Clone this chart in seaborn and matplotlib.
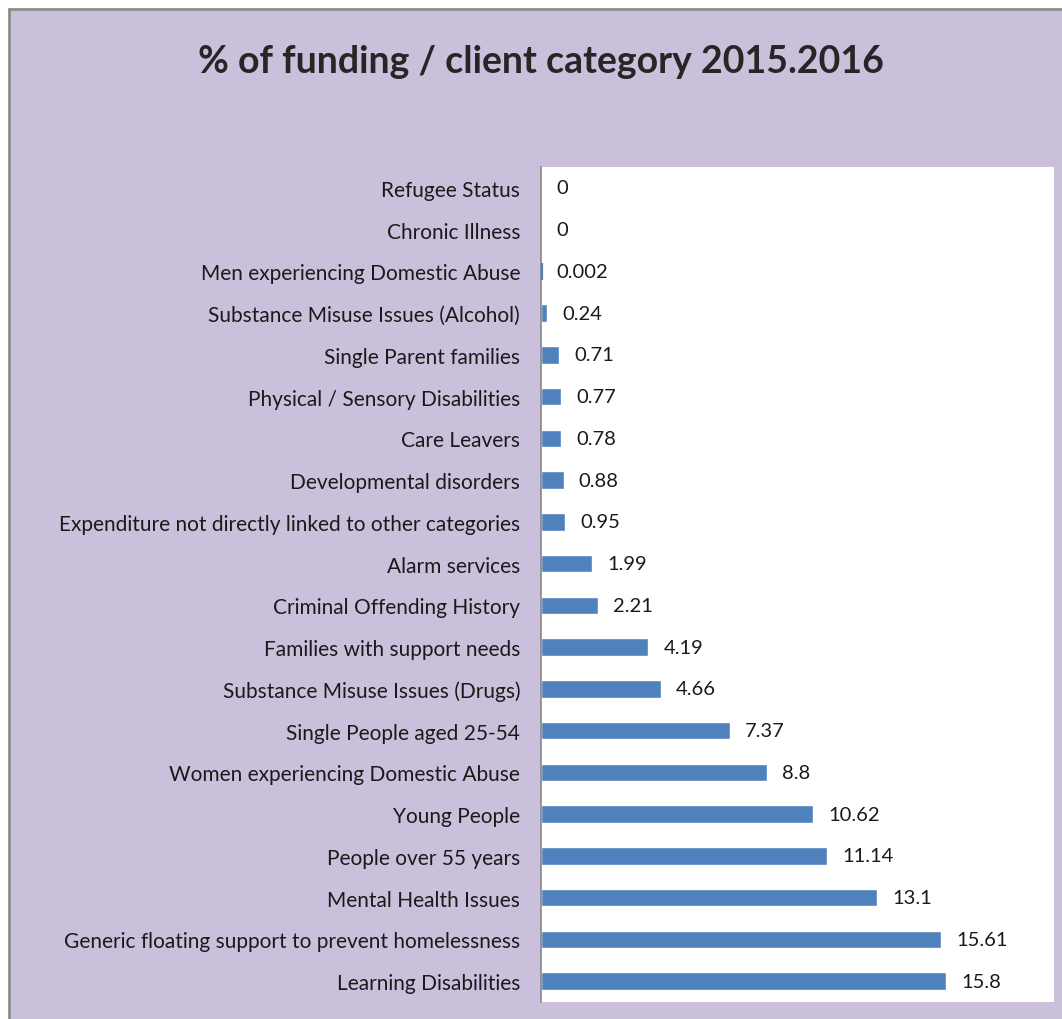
import matplotlib
matplotlib.use("Agg")
import matplotlib.pyplot as plt
import pandas as pd
import seaborn as sns
from matplotlib.patches import Rectangle

CATEGORIES = [
    "Refugee Status",
    "Chronic Illness",
    "Men experiencing Domestic Abuse",
    "Substance Misuse Issues (Alcohol)",
    "Single Parent families",
    "Physical / Sensory Disabilities",
    "Care Leavers",
    "Developmental disorders",
    "Expenditure not directly linked to other categories",
    "Alarm services",
    "Criminal Offending History",
    "Families with support needs",
    "Substance Misuse Issues (Drugs)",
    "Single People aged 25-54",
    "Women experiencing Domestic Abuse",
    "Young People",
    "People over 55 years",
    "Mental Health Issues",
    "Generic floating support to prevent homelessness",
    "Learning Disabilities",
]
VALUES = [0, 0, 0.002, 0.24, 0.71, 0.77, 0.78, 0.88, 0.95, 1.99, 2.21,
          4.19, 4.66, 7.37, 8.8, 10.62, 11.14, 13.1, 15.61, 15.8]
VALUE_LABELS = ["0", "0", "0.002", "0.24", "0.71", "0.77", "0.78", "0.88",
                "0.95", "1.99", "2.21", "4.19", "4.66", "7.37", "8.8",
                "10.62", "11.14", "13.1", "15.61", "15.8"]

BG = "#CBC0DB"
BAR = "#4F81BD"

sns.set_style("white")
plt.rcParams["font.family"] = ["Lato", "DejaVu Sans"]

df = pd.DataFrame({"category": CATEGORIES, "value": VALUES})

fig = plt.figure(figsize=(10.62, 10.20), dpi=100)
fig.patch.set_facecolor("white")
# purple chart frame with grey border on left/top
fig.patches.append(Rectangle((9 / 1062, -0.01), 1.1, 1 - 10 / 1020 + 0.01,
                             transform=fig.transFigure, facecolor=BG,
                             edgecolor="#8C8C8C", linewidth=2, zorder=-1))

ax = fig.add_axes([541 / 1062, 17 / 1020, 513 / 1062, 835 / 1020])
ax.set_facecolor("white")

sns.barplot(data=df, x="value", y="category", color=BAR, width=0.42,
            saturation=1, orient="h", ax=ax)

# tiny non-zero bars still show as a hairline, like the original
for patch, v in zip(ax.patches, VALUES):
    if 0 < v < 0.05:
        patch.set_edgecolor(BAR)
        patch.set_linewidth(3)
        patch.set_zorder(3)

ax.bar_label(ax.containers[0], labels=VALUE_LABELS, padding=11,
             fontsize=14.5, color="#1A1A1A")

ax.set_xlim(0, 20)
ax.set_xlabel("")
ax.set_ylabel("")
ax.set_xticks([])
ax.tick_params(axis="y", length=0, pad=15, labelsize=15, labelcolor="#1A1A1A")
for side in ["top", "right", "bottom"]:
    ax.spines[side].set_visible(False)
ax.spines["left"].set_color("#868686")
ax.spines["left"].set_linewidth(1.2)

fig.text(541 / 1062, 1 - 62 / 1020, "% of funding / client category 2015.2016",
         ha="center", va="center", fontsize=27, fontweight="bold")

fig.savefig("out.png", dpi=100)
